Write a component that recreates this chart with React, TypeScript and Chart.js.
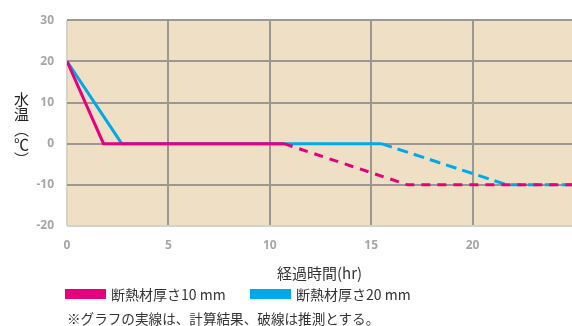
import React, { useEffect, useRef } from "react";
import { Chart, registerables } from "chart.js";

Chart.register(...registerables);

const hours10 = [0, 1.8, 10.7, 16.8, 25];
const temps10 = [20, 0, 0, -10, -10];
const hours20 = [0, 2.7, 15.5, 21.7, 25];
const temps20 = [20, 0, 0, -10, -10];
const solidUntilIndex = 2; // segments starting at this index are estimates (dashed)
const seriesLabels = ["断熱材厚さ10 mm", "断熱材厚さ20 mm"];
const seriesColors = ["#E6007E", "#00A9E8"];
const yTicks = [-20, -10, 0, 10, 20, 30];
const xTicks = [0, 5, 10, 15, 20];

const bgPlugin = {
  id: "plotBg",
  beforeDraw(chart: any) {
    const { ctx, chartArea } = chart;
    ctx.save();
    ctx.fillStyle = "#EFE0C5";
    ctx.fillRect(chartArea.left, chartArea.top, chartArea.right - chartArea.left, chartArea.bottom - chartArea.top);
    ctx.restore();
  },
};

export default function App() {
  const ref = useRef<HTMLCanvasElement>(null);
  useEffect(() => {
    if (!ref.current) return;
    const mk = (xs: number[], ys: number[], i: number, dash: number[]) => ({
      label: seriesLabels[i],
      data: xs.map((x, k) => ({ x, y: ys[k] })),
      borderColor: seriesColors[i],
      backgroundColor: seriesColors[i],
      borderWidth: 3,
      pointRadius: 0,
      tension: 0,
      fill: false,
      segment: {
        borderDash: (ctx: any) => (ctx.p0DataIndex >= solidUntilIndex ? dash : undefined),
      },
    });
    const chart = new Chart(ref.current, {
      type: "line",
      data: {
        datasets: [mk(hours10, temps10, 0, [9, 7]), mk(hours20, temps20, 1, [11, 6])],
      },
      plugins: [bgPlugin],
      options: {
        animation: false,
        responsive: false,
        maintainAspectRatio: false,
        layout: { padding: { top: 19, left: 0, right: 0, bottom: 0 } },
        plugins: { legend: { display: false }, tooltip: { enabled: false } },
        scales: {
          x: {
            type: "linear",
            min: 0,
            max: 24.9,
            afterFit: (s: any) => {
              s.height = 100;
            },
            afterBuildTicks: (s: any) => {
              s.ticks = xTicks.map((v) => ({ value: v }));
            },
            ticks: {
              includeBounds: false,
              padding: 12,
              color: "#a6a6a6",
              font: { family: "Open Sans", size: 12, weight: "bold" },
              maxRotation: 0,
            },
            grid: {
              drawTicks: false,
              lineWidth: 2,
              color: (c: any) => (c.tick && c.tick.value === 0 ? "#d4d2cf" : "#9b9894"),
            },
            border: { display: false },
            title: {
              display: true,
              text: "経過時間(hr)",
              color: "#333333",
              font: { family: "Noto Sans CJK JP", size: 15 },
              padding: { top: 0, bottom: 44 },
            },
          },
          y: {
            type: "linear",
            min: -20,
            max: 30,
            afterFit: (s: any) => {
              s.width = 67;
            },
            afterBuildTicks: (s: any) => {
              s.ticks = yTicks.map((v) => ({ value: v }));
            },
            ticks: {
              padding: 13,
              color: "#a6a6a6",
              font: { family: "Open Sans", size: 12, weight: "bold" },
            },
            grid: {
              drawTicks: false,
              lineWidth: 2,
              color: (c: any) => (c.tick && c.tick.value === -20 ? "#d4d2cf" : "#9b9894"),
            },
            border: { display: false },
          },
        },
      },
    });
    return () => chart.destroy();
  }, []);

  const font = '"Noto Sans CJK JP", "Noto Sans", sans-serif';
  return (
    <div style={{ position: "fixed", left: 0, top: 0, width: 572, height: 326, background: "#fff", fontFamily: font }}>
      <canvas ref={ref} width={572} height={326} style={{ width: 572, height: 326, display: "block" }} />
      <div
        style={{
          position: "absolute",
          left: 13,
          top: 92,
          writingMode: "vertical-rl",
          fontSize: 15,
          lineHeight: "17px",
          color: "#222",
        }}
      >
        水温（℃）
      </div>
      {seriesLabels.map((lab, i) => (
        <div
          key={lab}
          style={{ position: "absolute", left: i === 0 ? 65 : 250, top: 284, display: "flex", alignItems: "center", height: 20 }}
        >
          <div style={{ width: 41, height: 10, background: seriesColors[i], marginRight: 5 }} />
          <span style={{ fontSize: 14, color: "#333", whiteSpace: "nowrap" }}>{lab}</span>
        </div>
      ))}
      <div style={{ position: "absolute", left: 67, top: 309, fontSize: 13.6, color: "#333", whiteSpace: "nowrap", lineHeight: "18px" }}>
        ※グラフの実線は、計算結果、破線は推測とする。
      </div>
    </div>
  );
}
